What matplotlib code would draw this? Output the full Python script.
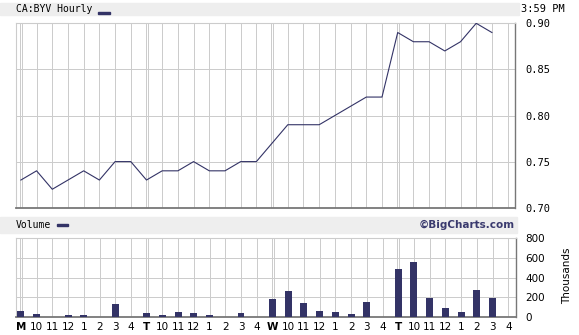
import matplotlib
matplotlib.use("Agg")
import matplotlib.pyplot as plt
from matplotlib.patches import Rectangle

# hourly slots: M 9:30, 10 .. 4, T ..., W ..., T ...
tick_labels = ["M", "10", "11", "12", "1", "2", "3", "4",
               "T", "10", "11", "12", "1", "2", "3", "4",
               "W", "10", "11", "12", "1", "2", "3", "4",
               "T", "10", "11", "12", "1", "2", "3", "4"]
day_labels = ["M", "T", "W"]

price = [0.73, 0.74, 0.72, 0.73, 0.74, 0.73, 0.75, 0.75,
         0.73, 0.74, 0.74, 0.75, 0.74, 0.74, 0.75, 0.75,
         0.77, 0.79, 0.79, 0.79, 0.80, 0.81, 0.82, 0.82,
         0.89, 0.88, 0.88, 0.87, 0.88, 0.90, 0.89]

# thousands of shares
volume = [60, 30, 0, 15, 15, 0, 130, 0,
          40, 15, 50, 40, 15, 0, 40, 0,
          180, 265, 140, 60, 50, 25, 155, 0,
          490, 560, 195, 90, 50, 275, 195, 0]

price_ticks = [0.70, 0.75, 0.80, 0.85, 0.90]
vol_ticks = [0, 200, 400, 600, 800]

navy = "#333366"
grid = "#cccccc"
dark = "#777777"
W, H = 579, 335

fig = plt.figure(figsize=(W / 100, H / 100), dpi=100)


def fx(px):
    return px / W


def fy(py):
    return 1 - py / H


# gray title bands
fig.patches.append(Rectangle((0, fy(15)), fx(519), fy(2.7) - fy(15),
                             transform=fig.transFigure, color="#eeeeee", zorder=0))
fig.patches.append(Rectangle((0, fy(232.7)), fx(517), fy(217.3) - fy(232.7),
                             transform=fig.transFigure, color="#eeeeee", zorder=0))

ax = fig.add_axes([fx(15.7), fy(207.7), fx(515.3) - fx(15.7), fy(23.3) - fy(207.7)])
axv = fig.add_axes([fx(15.7), fy(316.7), fx(516) - fx(15.7), fy(238.3) - fy(316.7)])

xs = list(range(len(tick_labels)))


def style(a):
    a.set_xlim(-0.33, 31.49)
    for k in xs:
        if tick_labels[k] in day_labels:
            a.axvline(k - 0.06, color=grid, lw=0.72, zorder=0)
            a.axvline(k + 0.07, color=grid, lw=0.72, zorder=0)
        else:
            a.axvline(k, color=grid, lw=0.72, zorder=0)
    a.spines["left"].set_color(grid)
    a.spines["top"].set_color(grid)
    a.spines["left"].set_linewidth(0.8)
    a.spines["top"].set_linewidth(0.8)
    a.spines["right"].set_color(dark)
    a.spines["bottom"].set_color(dark)
    a.spines["right"].set_linewidth(1.0)
    a.spines["bottom"].set_linewidth(1.3)
    a.yaxis.tick_right()
    a.tick_params(axis="y", length=0, pad=7, labelsize=7.5)
    a.tick_params(axis="x", length=0)


# price panel
style(ax)
ax.set_ylim(0.70, 0.90)
ax.set_yticks(price_ticks)
ax.set_yticklabels(["%.2f" % v for v in price_ticks], family="DejaVu Sans Mono")
for v in price_ticks[1:-1]:
    ax.axhline(v, color=grid, lw=0.72, zorder=0)
ax.set_xticks([])
ax.plot(xs[:len(price)], price, color=navy, lw=0.8, zorder=3)

# volume panel
style(axv)
axv.set_ylim(0, 800)
axv.set_yticks(vol_ticks)
axv.set_yticklabels([str(v) for v in vol_ticks])
for v in vol_ticks[1:-1]:
    axv.axhline(v, color=grid, lw=0.72, zorder=0)
axv.bar(xs, volume, width=0.44, color=navy, zorder=3)
axv.set_xticks(xs)
axv.set_xticklabels(tick_labels, fontsize=7.5)
axv.tick_params(axis="x", pad=4)
for t in axv.get_xticklabels():
    if t.get_text() in day_labels:
        t.set_fontweight("bold")

# header texts
fig.text(fx(15.7), fy(9.3), "CA:BYV Hourly", family="DejaVu Sans Mono",
         fontsize=7, va="center", ha="left")
fig.patches.append(Rectangle((fx(97.7), fy(14)), fx(12.3), fy(12) - fy(14),
                             transform=fig.transFigure, color=navy))
fig.text(fx(521), fy(9.5), "3:59 PM", family="DejaVu Sans Mono",
         fontsize=7.5, va="center", ha="left")

fig.text(fx(15.7), fy(225.5), "Volume", family="DejaVu Sans Mono",
         fontsize=7, va="center", ha="left")
fig.patches.append(Rectangle((fx(57.3), fy(226.3)), fx(11), fy(224.3) - fy(226.3),
                             transform=fig.transFigure, color=navy))
fig.text(fx(515), fy(225.3), "\u00a9BigCharts.com", fontsize=7.5,
         fontweight="bold", color="#3a3a6e", va="center", ha="right")
fig.text(fx(567), fy(276), "Thousands", rotation=90, fontsize=7.5,
         va="center", ha="center")

fig.savefig("out.png", dpi=100)
